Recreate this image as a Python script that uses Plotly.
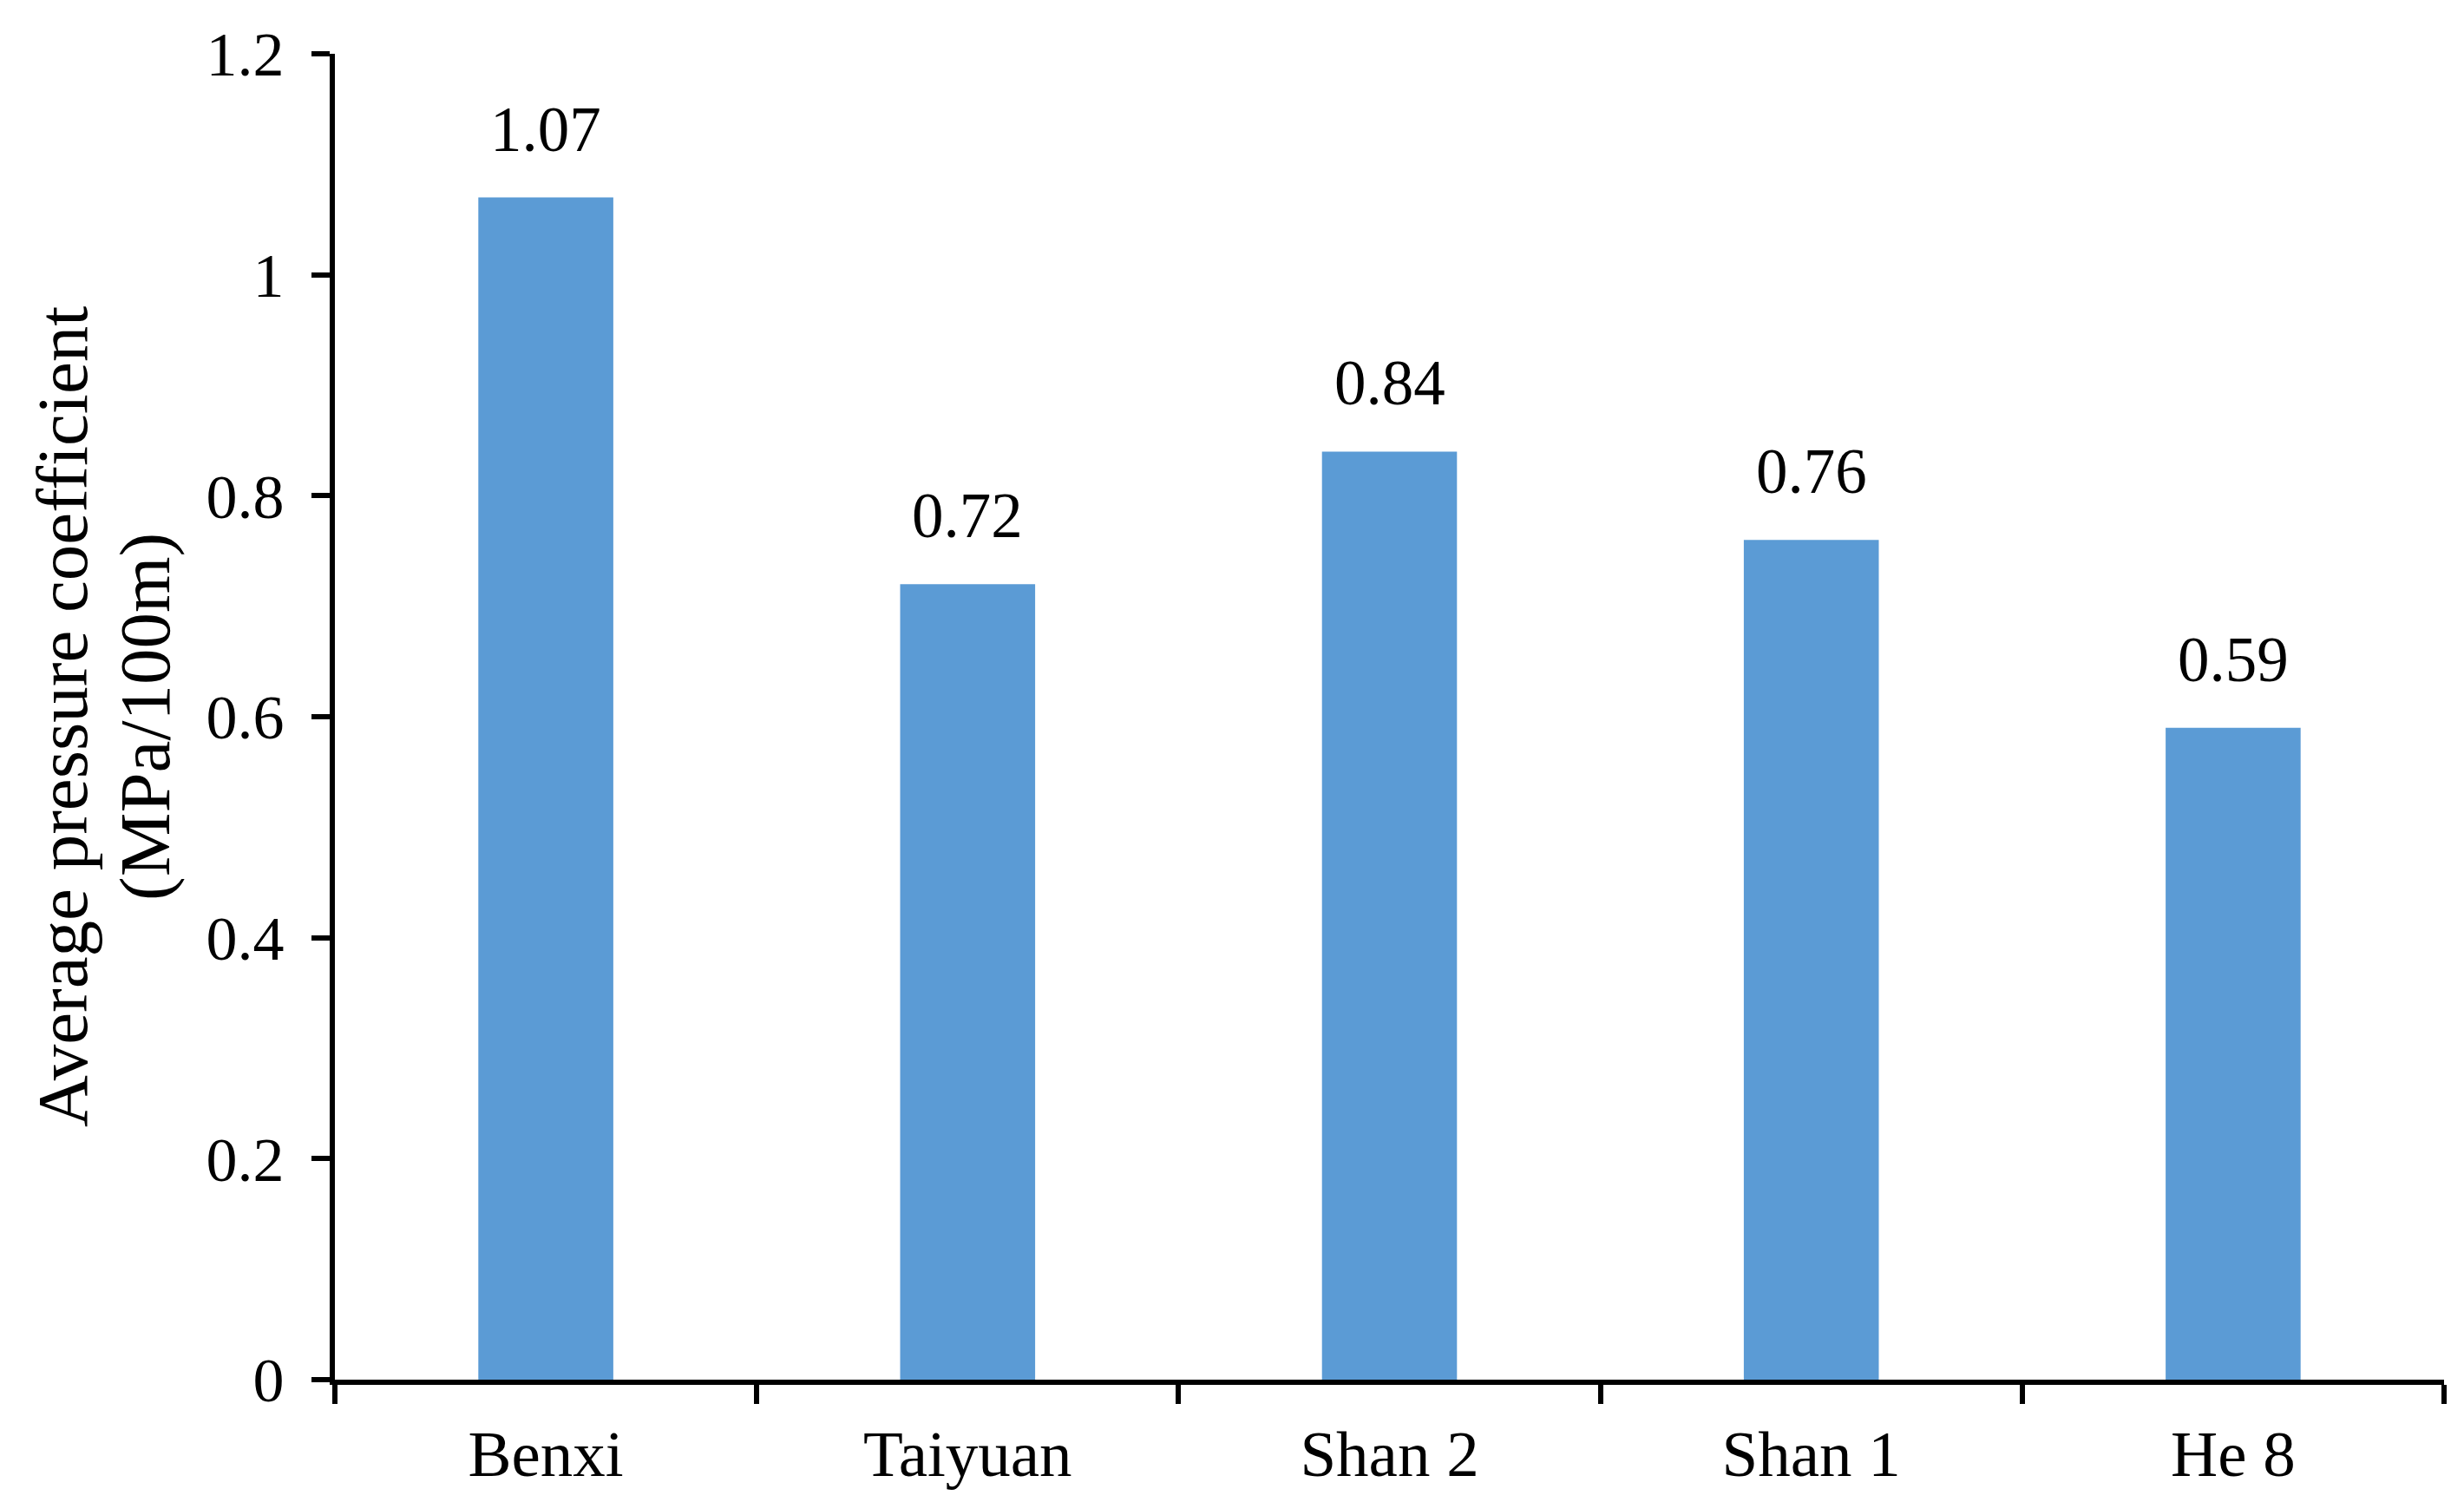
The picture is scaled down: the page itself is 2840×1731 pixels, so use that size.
import plotly.graph_objects as go

categories = ["Benxi", "Taiyuan", "Shan 2", "Shan 1", "He 8"]
values = [1.07, 0.72, 0.84, 0.76, 0.59]
value_labels = ["1.07", "0.72", "0.84", "0.76", "0.59"]
y_ticks = [0, 0.2, 0.4, 0.6, 0.8, 1, 1.2]
y_tick_text = ["0", "0.2", "0.4", "0.6", "0.8", "1", "1.2"]
y_title_lines = ["Average pressure coefficient", "(MPa/100m)"]

FONT = "Liberation Serif, Times New Roman, serif"

fig = go.Figure()
fig.add_trace(go.Bar(x=categories, y=values, marker_color="#5B9BD5",
                     marker_line_width=0, showlegend=False))

for c, v, t in zip(categories, values, value_labels):
    fig.add_annotation(x=c, y=v, text=t, showarrow=False, yanchor="bottom",
                       yshift=36, font=dict(family=FONT, size=73, color="black"))

# y-axis title as two rotated lines (tighter line spacing than Plotly default)
for line, shift in zip(y_title_lines, [-314, -219]):
    fig.add_annotation(xref="paper", yref="paper", x=0, y=0.5, text=line,
                       textangle=-90, showarrow=False, xanchor="center", yanchor="middle",
                       xshift=shift, font=dict(family=FONT, size=83, color="black"))

fig.update_layout(
    width=2840, height=1731,
    margin=dict(l=378, r=31, t=54, b=149),
    paper_bgcolor="white", plot_bgcolor="white",
    bargap=0.68,
    font=dict(family=FONT, size=72, color="black"),
)
fig.update_xaxes(
    showline=True, linecolor="black", linewidth=6,
    ticks="outside", tickson="boundaries", ticklen=22, tickwidth=6, tickcolor="black",
    ticklabelstandoff=15, showgrid=False, zeroline=False,
    tickfont=dict(family=FONT, size=75, color="black"),
)
fig.update_yaxes(
    range=[0, 1.2], tickvals=y_ticks, ticktext=y_tick_text,
    showline=True, linecolor="black", linewidth=6,
    ticks="outside", ticklen=21, tickwidth=6, tickcolor="black",
    ticklabelstandoff=17, showgrid=False, zeroline=False,
    tickfont=dict(family=FONT, size=72, color="black"),
)

fig.write_html("out.html")
